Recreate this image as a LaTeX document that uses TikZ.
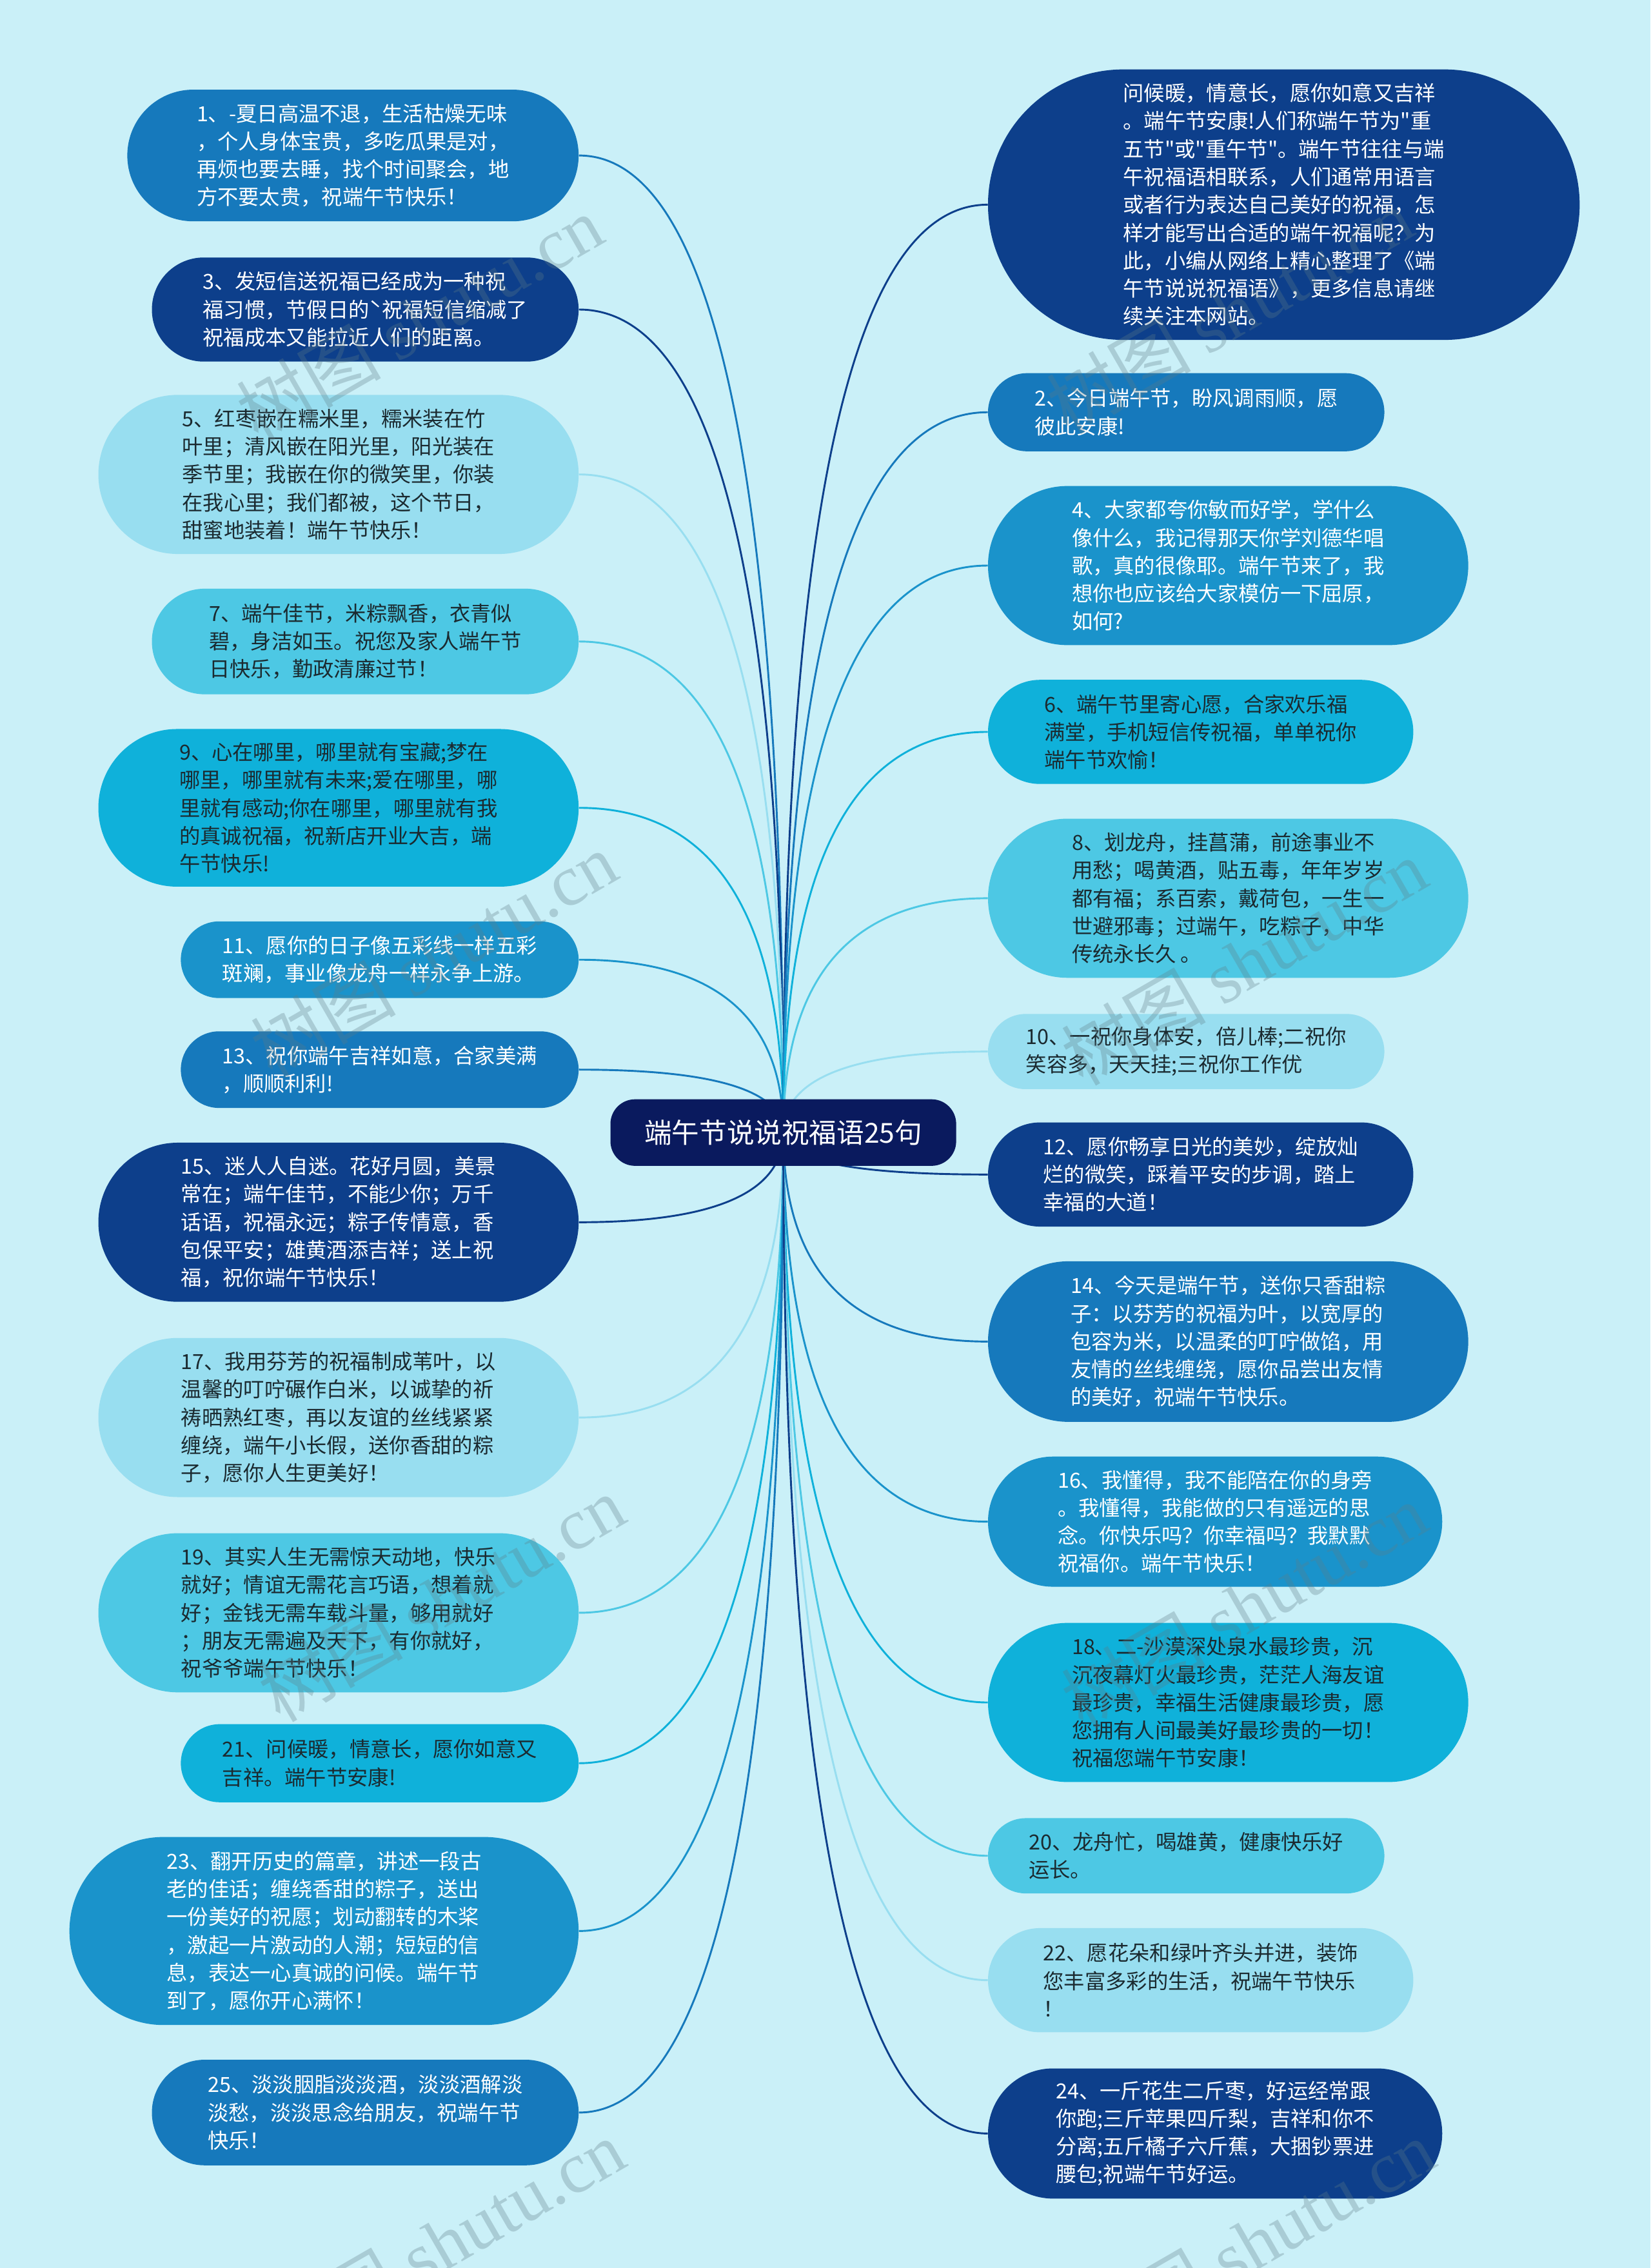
\documentclass[tikz,border=0pt]{standalone}
\usepackage{fontspec}
\setmainfont{Noto Sans CJK SC}
\newfontfamily\cjkplain{Noto Sans CJK SC}
\newfontfamily\wmserif{Liberation Serif}
\usetikzlibrary{calc}
\pgfdeclarelayer{bglayer}
\pgfdeclarelayer{linklayer}
\pgfsetlayers{bglayer,linklayer,main}
\definecolor{bgc}{HTML}{CAF0F8}
\definecolor{cA}{HTML}{0D3F8B}
\definecolor{cB}{HTML}{1679BC}
\definecolor{cC}{HTML}{1A93CB}
\definecolor{cD}{HTML}{0FB1DA}
\definecolor{cE}{HTML}{4DC8E4}
\definecolor{cF}{HTML}{98DEF0}
\definecolor{hubc}{HTML}{0A1A5E}
\definecolor{darktext}{HTML}{1B2A30}
\definecolor{wmc}{HTML}{5E7C86}
\tikzset{
  card/.style={draw=none, inner sep=0pt, align=left, font=\cjkplain\fontsize{14.4}{19.3}\selectfont},
  dk/.style={card, fill=#1, text=white},
  lt/.style={card, fill=#1, text=darktext},
  link/.style={line width=1.3pt},
  hubstyle/.style={fill=hubc, text=white, inner sep=0pt, minimum width=239pt, minimum height=46pt, rounded corners=17pt, font=\cjkplain\fontsize{19}{22}\selectfont},
  wm/.style={text=wmc, opacity=0.3, rotate=30, inner sep=0pt, font=\fontsize{50}{56}\selectfont},
}
\newcommand{\linkL}[2]{\draw[link,#2] (hub.center) .. controls ($(hub.center)!0.667!(hub.center |- #1.east)$) and ($(#1.east)!0.667!(hub.center |- #1.east)$) .. (#1.east);}
\newcommand{\linkR}[2]{\draw[link,#2] (hub.center) .. controls ($(hub.center)!0.667!(hub.center |- #1.west)$) and ($(#1.west)!0.667!(hub.center |- #1.west)$) .. (#1.west);}
\begin{document}
\begin{tikzpicture}[x=1pt,y=-1pt]
\begin{pgfonlayer}{bglayer}
\fill[bgc] (0,0) rectangle (1141,1568);
\end{pgfonlayer}
\useasboundingbox (0,0) rectangle (1141,1568);

% hub
\node[hubstyle] (hub) at (541.5,783) {端午节说说祝福语25句};

% left column
\node[dk=cB, minimum width=312pt, minimum height=91pt, rounded corners=45.5pt] (L1) at (244,107.5) {1、-夏日高温不退，生活枯燥无味\\，个人身体宝贵，多吃瓜果是对，\\再烦也要去睡，找个时间聚会，地\\方不要太贵，祝端午节快乐！};
\node[dk=cA, minimum width=295pt, minimum height=72pt, rounded corners=36pt] (L3) at (252.5,214) {3、发短信送祝福已经成为一种祝\\福习惯，节假日的ˋ祝福短信缩减了\\祝福成本又能拉近人们的距离。};
\node[lt=cF, minimum width=332pt, minimum height=110pt, rounded corners=55pt] (L5) at (234,328) {5、红枣嵌在糯米里，糯米装在竹\\叶里；清风嵌在阳光里，阳光装在\\季节里；我嵌在你的微笑里，你装\\在我心里；我们都被，这个节日，\\甜蜜地装着！端午节快乐！};
\node[lt=cE, minimum width=295pt, minimum height=73pt, rounded corners=36.5pt] (L7) at (252.5,443.5) {7、端午佳节，米粽飘香，衣青似\\碧，身洁如玉。祝您及家人端午节\\日快乐，勤政清廉过节！};
\node[lt=cD, minimum width=332pt, minimum height=109pt, rounded corners=54.5pt] (L9) at (234,558.5) {9、心在哪里，哪里就有宝藏;梦在\\哪里，哪里就有未来;爱在哪里，哪\\里就有感动;你在哪里，哪里就有我\\的真诚祝福，祝新店开业大吉，端\\午节快乐!};
\node[dk=cC, minimum width=275pt, minimum height=53pt, rounded corners=26.5pt] (L11) at (262.5,663.5) {11、愿你的日子像五彩线一样五彩\\斑斓，事业像龙舟一样永争上游。};
\node[dk=cB, minimum width=275pt, minimum height=53pt, rounded corners=26.5pt] (L13) at (262.5,739.5) {13、祝你端午吉祥如意，合家美满\\，顺顺利利!};
\node[dk=cA, minimum width=332pt, minimum height=110pt, rounded corners=55pt] (L15) at (234,845) {15、迷人人自迷。花好月圆，美景\\常在；端午佳节，不能少你；万千\\话语，祝福永远；粽子传情意，香\\包保平安；雄黄酒添吉祥；送上祝\\福，祝你端午节快乐！};
\node[lt=cF, minimum width=332pt, minimum height=110pt, rounded corners=55pt] (L17) at (234,980) {17、我用芬芳的祝福制成苇叶，以\\温馨的叮咛碾作白米，以诚挚的祈\\祷晒熟红枣，再以友谊的丝线紧紧\\缠绕，端午小长假，送你香甜的粽\\子，愿你人生更美好！};
\node[lt=cE, minimum width=332pt, minimum height=110pt, rounded corners=55pt] (L19) at (234,1115) {19、其实人生无需惊天动地，快乐\\就好；情谊无需花言巧语，想着就\\好；金钱无需车载斗量，够用就好\\；朋友无需遍及天下，有你就好，\\祝爷爷端午节快乐！};
\node[lt=cD, minimum width=275pt, minimum height=54pt, rounded corners=27pt] (L21) at (262.5,1219) {21、问候暖，情意长，愿你如意又\\吉祥。端午节安康!};
\node[dk=cC, minimum width=352pt, minimum height=130pt, rounded corners=65pt] (L23) at (224,1335) {23、翻开历史的篇章，讲述一段古\\老的佳话；缠绕香甜的粽子，送出\\一份美好的祝愿；划动翻转的木桨\\，激起一片激动的人潮；短短的信\\息，表达一心真诚的问候。端午节\\到了，愿你开心满怀！};
\node[dk=cB, minimum width=295pt, minimum height=73pt, rounded corners=36.5pt] (L25) at (252.5,1460.5) {25、淡淡胭脂淡淡酒，淡淡酒解淡\\淡愁，淡淡思念给朋友，祝端午节\\快乐！};

% right column
\node[dk=cA, minimum width=409pt, minimum height=187pt, rounded corners=93.5pt] (R0) at (887.5,141.5) {问候暖，情意长，愿你如意又吉祥\\。端午节安康!人们称端午节为"重\\五节"或"重午节"。端午节往往与端\\午祝福语相联系，人们通常用语言\\或者行为表达自己美好的祝福，怎\\样才能写出合适的端午祝福呢？为\\此，小编从网络上精心整理了《端\\午节说说祝福语》，更多信息请继\\续关注本网站。};
\node[dk=cB, minimum width=274pt, minimum height=54pt, rounded corners=27pt] (R2) at (820,285) {2、今日端午节，盼风调雨顺，愿\\彼此安康!};
\node[dk=cC, minimum width=332pt, minimum height=110pt, rounded corners=55pt] (R4) at (849,391) {4、大家都夸你敏而好学，学什么\\像什么，我记得那天你学刘德华唱\\歌，真的很像耶。端午节来了，我\\想你也应该给大家模仿一下屈原，\\如何?};
\node[lt=cD, minimum width=294pt, minimum height=72pt, rounded corners=36pt] (R6) at (830,506) {6、端午节里寄心愿，合家欢乐福\\满堂，手机短信传祝福，单单祝你\\端午节欢愉！};
\node[lt=cE, minimum width=332pt, minimum height=110pt, rounded corners=55pt] (R8) at (849,621) {8、划龙舟，挂菖蒲，前途事业不\\用愁；喝黄酒，贴五毒，年年岁岁\\都有福；系百索，戴荷包，一生一\\世避邪毒；过端午，吃粽子，中华\\传统永长久 。};
\node[lt=cF, minimum width=274pt, minimum height=52pt, rounded corners=26pt] (R10) at (820,727) {10、一祝你身体安，倍儿棒;二祝你\\笑容多，天天挂;三祝你工作优};
\node[dk=cA, minimum width=294pt, minimum height=72pt, rounded corners=36pt] (R12) at (830,812) {12、愿你畅享日光的美妙，绽放灿\\烂的微笑，踩着平安的步调，踏上\\幸福的大道！};
\node[dk=cB, minimum width=332pt, minimum height=111pt, rounded corners=55.5pt] (R14) at (849,927.5) {14、今天是端午节，送你只香甜粽\\子：以芬芳的祝福为叶，以宽厚的\\包容为米，以温柔的叮咛做馅，用\\友情的丝线缠绕，愿你品尝出友情\\的美好，祝端午节快乐。};
\node[dk=cC, minimum width=314pt, minimum height=90pt, rounded corners=45pt] (R16) at (840,1052) {16、我懂得，我不能陪在你的身旁\\。我懂得，我能做的只有遥远的思\\念。你快乐吗？你幸福吗？我默默\\祝福你。端午节快乐！};
\node[lt=cD, minimum width=332pt, minimum height=110pt, rounded corners=55pt] (R18) at (849,1177) {18、二-沙漠深处泉水最珍贵，沉\\沉夜幕灯火最珍贵，茫茫人海友谊\\最珍贵，幸福生活健康最珍贵，愿\\您拥有人间最美好最珍贵的一切！\\祝福您端午节安康！};
\node[lt=cE, minimum width=274pt, minimum height=52pt, rounded corners=26pt] (R20) at (820,1283) {20、龙舟忙，喝雄黄，健康快乐好\\运长。};
\node[lt=cF, minimum width=294pt, minimum height=72pt, rounded corners=36pt] (R22) at (830,1369) {22、愿花朵和绿叶齐头并进，装饰\\您丰富多彩的生活，祝端午节快乐\\！};
\node[dk=cA, minimum width=314pt, minimum height=90pt, rounded corners=45pt] (R24) at (840,1475) {24、一斤花生二斤枣，好运经常跟\\你跑;三斤苹果四斤梨，吉祥和你不\\分离;五斤橘子六斤蕉，大捆钞票进\\腰包;祝端午节好运。};

% connectors
\begin{pgfonlayer}{linklayer}
\linkL{L1}{cB}
\linkL{L3}{cA}
\linkL{L5}{cF}
\linkL{L7}{cE}
\linkL{L9}{cD}
\linkL{L11}{cC}
\linkL{L13}{cB}
\linkL{L15}{cA}
\linkL{L17}{cF}
\linkL{L19}{cE}
\linkL{L21}{cD}
\linkL{L23}{cC}
\linkL{L25}{cB}
\linkR{R0}{cA}
\linkR{R2}{cB}
\linkR{R4}{cC}
\linkR{R6}{cD}
\linkR{R8}{cE}
\linkR{R10}{cF}
\linkR{R12}{cA}
\linkR{R14}{cB}
\linkR{R16}{cC}
\linkR{R18}{cD}
\linkR{R20}{cE}
\linkR{R22}{cF}
\linkR{R24}{cA}
\end{pgfonlayer}

% watermarks
\node[wm] (w1) at (290,220) {树图 {\wmserif shutu.cn}};
\node[wm] (w2) at (850,215) {树图 {\wmserif shutu.cn}};
\node[wm] (w3) at (300,660) {树图 {\wmserif shutu.cn}};
\node[wm] (w4) at (860,665) {树图 {\wmserif shutu.cn}};
\node[wm] (w5) at (305,1105) {树图 {\wmserif shutu.cn}};
\node[wm] (w6) at (860,1110) {树图 {\wmserif shutu.cn}};
\node[wm] (w7) at (305,1550) {树图 {\wmserif shutu.cn}};
\node[wm] (w8) at (865,1550) {树图 {\wmserif shutu.cn}};
\end{tikzpicture}
\end{document}
